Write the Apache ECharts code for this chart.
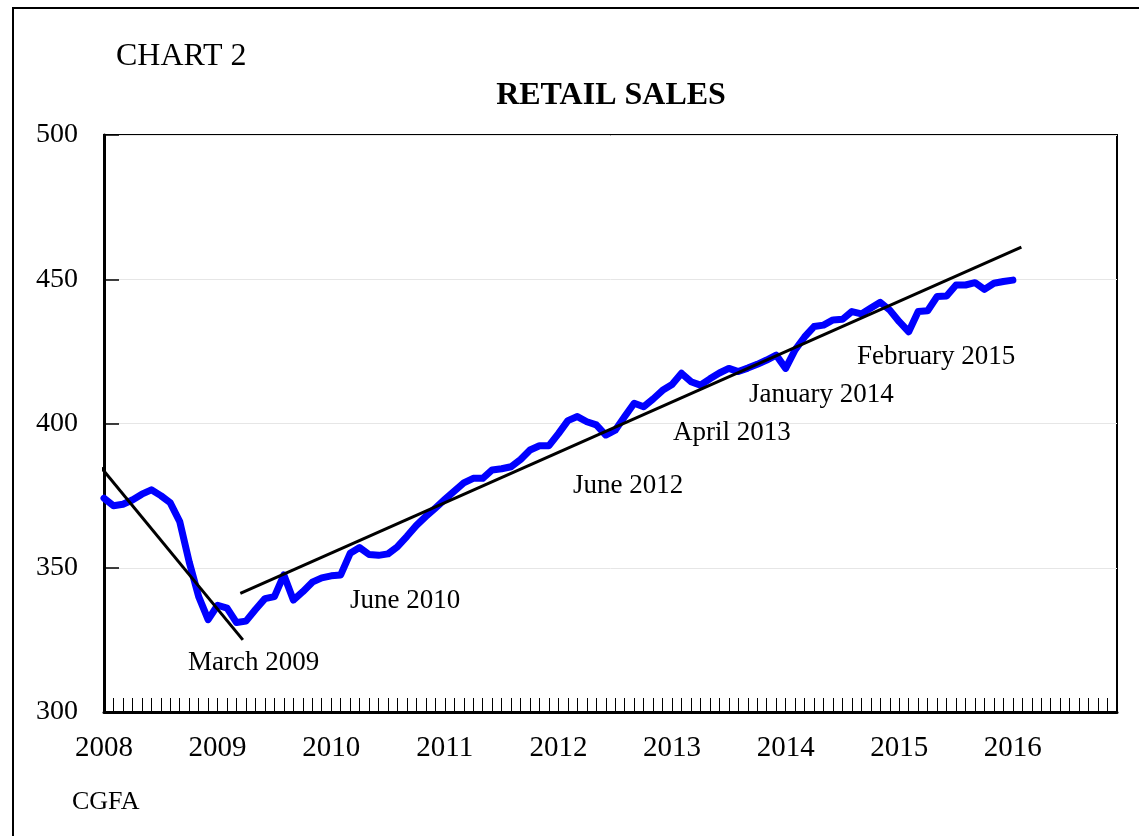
<!DOCTYPE html>
<html>
<head>
<meta charset="utf-8">
<script src="https://cdn.jsdelivr.net/npm/echarts@6/dist/echarts.min.js"></script>
<style>
  html, body { margin: 0; padding: 0; background: #fff; overflow: hidden; }
  #wrap { position: relative; width: 1139px; height: 836px; }
  #frame { position: absolute; left: 12px; top: 7px; width: 1200px; height: 900px; border-left: 2px solid #000; border-top: 2px solid #000; }
  #main { position: absolute; left: 0; top: 0; width: 1139px; height: 836px; }
</style>
</head>
<body>
<div id="wrap">
  <div id="frame"></div>
  <div id="main"></div>
</div>
<script>
// monthly retail sales, Jan 2008 = month 0
var sales = [
  374.1, 371.5, 372, 373.5, 375.5, 377, 375, 372.5, 366, 352, 340, 332,
  337, 336, 331, 331.5, 335.5, 339.3, 340, 347.5, 338.8, 341.7, 345, 346.5,
  347.2, 347.5, 355, 357, 354.6, 354.3, 354.8, 357.3, 360.9, 364.7, 367.8, 370.7,
  373.7, 376.6, 379.4, 381, 381, 383.9, 384.3, 385, 387.5, 390.8, 392.3, 392.3,
  396.5, 401, 402.4, 400.6, 399.5, 396, 397.7, 402.4, 407, 405.8, 408.5, 411.5,
  413.5, 417.4, 414.5, 413.3, 415.5, 417.5, 419.1, 418, 419.2, 420.5, 422, 423.7,
  419.1, 425.5, 430, 433.6, 434.1, 435.9, 436.1, 438.8, 438, 440, 442, 439.3,
  435.3, 431.8, 438.8, 439.1, 444, 444.2, 448, 448, 448.8, 446.5, 448.6, 449.2,
  449.7
];
// trend lines [month, value]
var trendDown = [[-0.55, 385.7], [14.67, 325.0]];
var trendUp = [[14.4, 341.1], [96.9, 461.1]];
var startYear = 2008;
var yTicks = [300, 350, 400, 450, 500];
var notes = [
  ['March 2009', 188, 663],
  ['June 2010', 350, 601],
  ['June 2012', 573, 486],
  ['April 2013', 673, 433],
  ['January 2014', 749, 395],
  ['February 2015', 857, 357]
];

var serif = '"Liberation Serif", "Times New Roman", serif';
var salesData = sales.map(function (v, i) { return [i, v]; });

var myChart = echarts.init(document.getElementById('main'));

var graphics = [
  { type: 'text', x: 116, y: 57, style: { text: 'CHART 2', font: '32px ' + serif, fill: '#000', textVerticalAlign: 'middle' } },
  { type: 'text', x: 611, y: 96, style: { text: 'RETAIL SALES', font: 'bold 32px ' + serif, fill: '#000', textAlign: 'center', textVerticalAlign: 'middle' } },
  { type: 'text', x: 72, y: 802, style: { text: 'CGFA', font: '26px ' + serif, fill: '#000', textVerticalAlign: 'middle' } }
];
notes.forEach(function (n) {
  graphics.push({ type: 'text', x: n[1], y: n[2], z: 10,
    style: { text: n[0], font: '27px ' + serif, fill: '#000', textVerticalAlign: 'middle' } });
});

var option = {
  animation: false,
  grid: {
    left: 104, top: 135, right: 22, bottom: 124,
    show: true, borderColor: '#000', borderWidth: 2
  },
  xAxis: {
    type: 'value',
    min: 0, max: 107, interval: 1,
    axisLine: { show: true, lineStyle: { color: '#000', width: 3 } },
    axisTick: { show: true, inside: true, length: 14, lineStyle: { color: '#000', width: 1 } },
    splitLine: { show: false },
    axisLabel: {
      margin: 22, color: '#000', fontFamily: serif, fontSize: 29,
      formatter: function (v) {
        return (v % 12 === 0 && v <= 96) ? String(startYear + v / 12) : '';
      }
    }
  },
  yAxis: {
    type: 'value',
    min: yTicks[0], max: yTicks[yTicks.length - 1], interval: 50,
    axisLine: { show: true, lineStyle: { color: '#000', width: 3 } },
    axisTick: { show: true, inside: true, length: 15, lineStyle: { color: '#000', width: 1.5 } },
    splitLine: { show: true, lineStyle: { color: '#e6e6e6', width: 1 } },
    axisLabel: { margin: 26, color: '#000', fontFamily: serif, fontSize: 28 }
  },
  graphic: graphics,
  series: [
    {
      name: 'Retail sales', type: 'line', data: salesData,
      symbol: 'none', lineStyle: { color: '#0000ff', width: 7, cap: 'round', join: 'round' }, z: 3
    },
    {
      name: 'trend 1', type: 'line', data: trendDown, clip: false,
      symbol: 'none', lineStyle: { color: '#000', width: 3 }, z: 4
    },
    {
      name: 'trend 2', type: 'line', data: trendUp, clip: false,
      symbol: 'none', lineStyle: { color: '#000', width: 3 }, z: 4
    }
  ]
};
myChart.setOption(option);
window.onresize = myChart.resize;
</script>
</body>
</html>
